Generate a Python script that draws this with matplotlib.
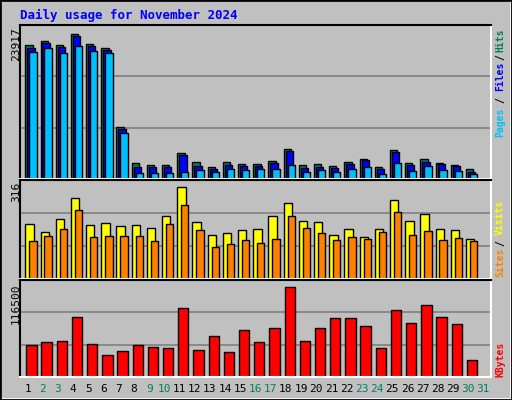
import numpy as np
import matplotlib
matplotlib.use("Agg")
import matplotlib.pyplot as plt

days = list(range(1, 32))
weekend = [2, 3, 9, 10, 16, 17, 23, 24, 30, 31]
hits = [21494, 22126, 21494, 23232, 21652, 21019, 8376, 2529, 2213, 2213, 4109, 2687, 1896, 2687, 2371,
        2371, 2845, 4741, 2213, 2371, 2055, 2687, 3161, 1896, 4583, 2529, 3161, 2529, 2213, 1580]
files = [21019, 21810, 21177, 22916, 21335, 20703, 8060, 1896, 1896, 1896, 3793, 2055, 1580, 2213, 2055,
         2055, 2529, 4425, 1738, 1896, 1738, 2371, 3003, 1580, 4267, 2213, 2687, 2371, 2055, 1106]
pages = [20387, 21019, 20229, 21335, 20545, 20229, 7428, 948, 948, 948, 1106, 1422, 1106, 1580, 1422,
         1580, 1580, 2213, 1106, 1422, 1106, 1580, 1896, 790, 2529, 1264, 2055, 1422, 1264, 790]
sites = [181, 155, 197, 267, 178, 184, 174, 178, 168, 207, 303, 188, 145, 151, 161,
         165, 207, 250, 191, 188, 145, 165, 138, 165, 260, 191, 214, 165, 161, 132]
visits = [125, 142, 165, 227, 138, 142, 142, 142, 125, 181, 244, 161, 105, 115, 128,
          118, 132, 207, 168, 151, 128, 138, 132, 155, 221, 145, 158, 128, 135, 125]
kbytes = [39245, 42924, 44150, 74810, 40471, 26981, 31886, 39245, 36792, 35566, 85848, 33113, 50282,
          30660, 57641, 42924, 60094, 111602, 44150, 60094, 73584, 73584, 62546, 35566, 83395, 66226,
          89527, 74810, 64999, 20849]
max_hits, max_sites, max_kb = 23917, 316, 116500

W, H = 512, 400
BG = "#C0C0C0"
GREEN = "#00805C"
fig = plt.figure(figsize=(W / 100, H / 100), dpi=100, facecolor=BG)
mono = "DejaVu Sans Mono"

# outer bevel
fig.patches.append(plt.Rectangle((1 / W, 1 / H), 1 - 2 / W, 1 - 2 / H, transform=fig.transFigure,
                                 fill=False, edgecolor="white", lw=1.2))
fig.patches.append(plt.Rectangle((0, 0), 1, 1, transform=fig.transFigure,
                                 fill=False, edgecolor="black", lw=2))


def panel(top, bottom, ymax):
    ax = fig.add_axes([20 / W, 1 - bottom / H, 471 / W, (bottom - top) / H])
    ax.set_facecolor(BG)
    ax.set_xlim(0.5, 31.5)
    ax.set_ylim(0, ymax)
    for f in (1 / 3, 2 / 3):
        ax.axhline(ymax * f, color="#808080", lw=1.2, zorder=0)
    ax.set_xticks([])
    ax.set_yticks([])
    for s in ("top", "left"):
        ax.spines[s].set_color("black")
    for s in ("bottom", "right"):
        ax.spines[s].set_color("white")
    for sp in ax.spines.values():
        sp.set_linewidth(1.5)
    return ax


x = np.arange(1, len(hits) + 1)
bk = dict(edgecolor="black", linewidth=1, align="edge")

ax1 = panel(25, 179, max_hits * 1.03)
ax1.bar(x - 0.15, hits, 0.48, color=GREEN, **bk)
ax1.bar(x - 0.02, files, 0.48, color="#0000FF", **bk)
ax1.bar(x + 0.11, pages, 0.48, color="#00BFFF", **bk)

ax2 = panel(180, 279, max_sites * 1.03)
ax2.bar(x - 0.15, sites, 0.55, color="#FFFF00", **bk)
ax2.bar(x + 0.11, visits, 0.48, color="#FF8000", **bk)

ax3 = panel(280, 377, max_kb * 1.03)
ax3.bar(x - 0.09, kbytes, 0.68, color="#FF0000", **bk)


def ftext(px, py, s, **kw):
    fig.text(px / W, 1 - py / H, s, **kw)


ftext(20, 15, "Daily usage for November 2024", color="#0000FF", fontsize=9, fontweight="bold",
      family=mono, va="center", ha="left")

ftext(16, 27, f"{max_hits}", rotation=90, va="top", ha="center", fontsize=8, family=mono)
ftext(16, 182, f"{max_sites}", rotation=90, va="top", ha="center", fontsize=8, family=mono)
ftext(16, 283, f"{max_kb}", rotation=90, va="top", ha="center", fontsize=8, family=mono)

rk = dict(rotation=90, ha="center", fontsize=7, family=mono, fontweight="bold")
ftext(500, 29, "Hits", color=GREEN, va="top", **rk)
ftext(500, 57, "/", color="black", va="center", **rk)
ftext(500, 62, "Files", color="#0000FF", va="top", **rk)
ftext(500, 100, "/", color="black", va="center", **rk)
ftext(500, 137, "Pages", color="#00BFFF", va="bottom", **rk)
ftext(500, 200, "Visits", color="#FFFF00", va="top", **rk)
ftext(500, 243, "/", color="black", va="center", **rk)
ftext(500, 277, "Sites", color="#FF8000", va="bottom", **rk)
ftext(500, 377, "KBytes", color="#FF0000", va="bottom", **rk)

for d in days:
    ftext(20 + (d - 0.5) * 471 / 31, 389, str(d), color=GREEN if d in weekend else "black",
          fontsize=8, family=mono, ha="center", va="center")

fig.savefig("out.png", dpi=100, facecolor=BG)
